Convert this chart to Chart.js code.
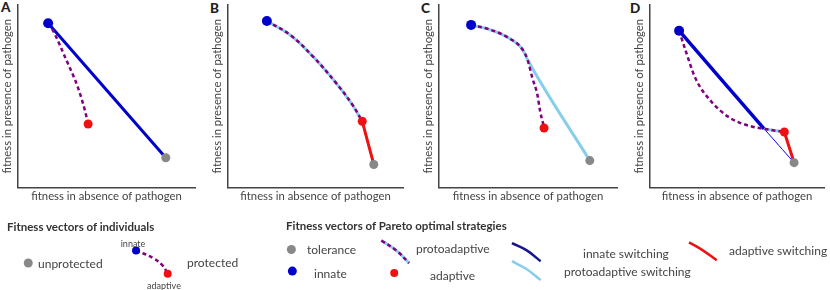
<!DOCTYPE html>
<html>
<head>
<meta charset="utf-8">
<script src="https://cdn.jsdelivr.net/npm/chart.js@4.4.1/dist/chart.umd.min.js"></script>
<style>
  body { margin: 0; width: 830px; height: 290px; position: relative; overflow: hidden; background: #fff; font-family: Lato, sans-serif; color: #444; }
  .box { position: absolute; }
  .t { position: absolute; white-space: nowrap; line-height: 1; transform: translateY(-50%); font-size: 12px; }
  .c { transform: translate(-50%, -50%); font-size: 9px; }
  .b { font-weight: bold; font-size: 11.5px; color: #333; }
  .L { position: absolute; font-weight: 900; font-size: 13.5px; color: #222; line-height: 1; }
</style>
</head>
<body>

<div class="L" style="left:1px;top:1px">A</div>
<div class="L" style="left:210px;top:2px">B</div>
<div class="L" style="left:421px;top:2px">C</div>
<div class="L" style="left:630px;top:2px">D</div>

<div class="box" id="pA"><canvas id="chartA"></canvas></div>
<div class="box" id="pB"><canvas id="chartB"></canvas></div>
<div class="box" id="pC"><canvas id="chartC"></canvas></div>
<div class="box" id="pD"><canvas id="chartD"></canvas></div>
<div class="box" id="pL" style="left:0;top:200px;width:830px;height:90px"><canvas id="legendChart"></canvas></div>

<div class="t b" style="left:7px;top:227px">Fitness vectors of individuals</div>
<div class="t" style="left:38px;top:264px">unprotected</div>
<div class="t c" style="left:133px;top:243px">innate</div>
<div class="t c" style="left:164px;top:285px">adaptive</div>
<div class="t" style="left:187px;top:263px">protected</div>

<div class="t b" style="left:286px;top:226px">Fitness vectors of Pareto optimal strategies</div>
<div class="t" style="left:307px;top:250px">tolerance</div>
<div class="t" style="left:314px;top:274px">innate</div>
<div class="t" style="left:416px;top:249px">protoadaptive</div>
<div class="t" style="left:430px;top:276px">adaptive</div>
<div class="t" style="left:583px;top:254px">innate switching</div>
<div class="t" style="left:564px;top:272px">protoadaptive switching</div>
<div class="t" style="left:729px;top:251px">adaptive switching</div>

<script>
// colours
var GRAY = '#888888', BLUE = '#0000cc', RED = '#ee1111', PURPLE = '#800080', SKY = '#87ceeb', NAVY = '#15158c';

// axis titles
var xTitle = 'fitness in absence of pathogen';
var yTitle = 'fitness in presence of pathogen';
var TITLE_SIZE = 11.3;

// panel A (0-100 scale on both axes)
var A_tolerance = [{x: 83.5, y: 16.3}];
var A_innate = [{x: 17, y: 90}];
var A_adaptive = [{x: 39.6, y: 34.8}];
var A_protected = [{x: 17, y: 90}, {x: 19.2, y: 87}, {x: 26.9, y: 70.7}, {x: 34, y: 54.3}, {x: 37.9, y: 41.8}, {x: 39.6, y: 34.8}];
var A_innateSwitch = [{x: 17, y: 90}, {x: 83.5, y: 16.3}];

// panel B
var B_tolerance = [{x: 83.3, y: 12.6}];
var B_innate = [{x: 22.2, y: 91.2}];
var B_adaptive = [{x: 76.7, y: 36.3}];
var B_proto = [{x: 22.2, y: 91.2}, {x: 35.6, y: 83.5}, {x: 48.3, y: 72}, {x: 61.1, y: 58}, {x: 70.6, y: 46}, {x: 76.7, y: 36.3}];
var B_adaptiveSwitch = [{x: 76.7, y: 36.3}, {x: 83.3, y: 12.6}];

// panel C
var C_tolerance = [{x: 84.7, y: 14.7}];
var C_innate = [{x: 18, y: 89.1}];
var C_adaptive = [{x: 59, y: 32.6}];
var C_proto = [{x: 18, y: 89.1}, {x: 29, y: 86.4}, {x: 39.9, y: 81.5}, {x: 47, y: 75.5}, {x: 49.7, y: 70.1},
               {x: 52.5, y: 59.8}, {x: 55.2, y: 51.1}, {x: 56.8, y: 41.8}, {x: 58.5, y: 34.8}, {x: 59, y: 32.6}];
var C_protoSwitch = [{x: 18, y: 89.1}, {x: 29, y: 86.4}, {x: 39.9, y: 81.5}, {x: 47, y: 75.5}, {x: 49.7, y: 70.1},
                     {x: 84.7, y: 14.7}];

// panel D
var D_tolerance = [{x: 82.8, y: 13.6}];
var D_innate = [{x: 16.7, y: 85.9}];
var D_adaptive = [{x: 77.2, y: 30.4}];
var D_proto = [{x: 16.7, y: 85.9}, {x: 20.6, y: 74.5}, {x: 26.1, y: 59.8}, {x: 35, y: 47.3}, {x: 46.1, y: 38},
               {x: 57.2, y: 33.7}, {x: 65.6, y: 32.1}, {x: 77.2, y: 30.4}];
var D_protoTail = [{x: 65.6, y: 32.1}, {x: 77.2, y: 30.4}];
var D_innateSwitch = [{x: 16.7, y: 85.9}, {x: 65.6, y: 32.1}];
var D_innateThin = [{x: 65.6, y: 32.1}, {x: 82.8, y: 13.6}];
var D_adaptiveSwitch = [{x: 77.2, y: 30.4}, {x: 82.8, y: 13.6}];

// legend marks (page pixel coordinates)
var legGray = [{x: 24, y: 265}, {x: 290, y: 250}];
var legBlue = [{x: 291, y: 274}];
var legRed = [{x: 394, y: 276}];
var legBlueSmall = [{x: 133, y: 251}];
var legRedSmall = [{x: 165, y: 277}];
var legProtected = [{x: 133, y: 251}, {x: 151, y: 260}, {x: 160, y: 268}, {x: 165, y: 277}];
var legProto = [{x: 381, y: 240}, {x: 396, y: 251}, {x: 409, y: 265}];
var legNavy = [{x: 513, y: 243}, {x: 528, y: 251}, {x: 542, y: 263}];
var legSky = [{x: 513, y: 263}, {x: 528, y: 272}, {x: 542, y: 284}];
var legRedLine = [{x: 692, y: 242}, {x: 706, y: 251}, {x: 720, y: 262}];

function dots(data, color, r) {
    return { data: data, showLine: false, pointRadius: r, pointHoverRadius: r, pointBackgroundColor: color, pointBorderWidth: 0, clip: false };
}
function curve(data, color, w, dash, mono) {
    var ds = { data: data, showLine: true, borderColor: color, borderWidth: w, borderDash: dash || [], tension: 0.4,
               pointRadius: 0, fill: false, clip: false };
    if (mono) ds.cubicInterpolationMode = 'monotone';
    return ds;
}

function axisOpts(text, padBottom) {
    return {
        type: 'linear', min: 0, max: 100,
        grid: { display: false, drawTicks: false },
        ticks: { display: false },
        border: { display: true, color: '#444', width: 1.5 },
        title: { display: true, text: text, color: '#444', font: { family: 'Lato', size: TITLE_SIZE }, padding: { top: 2, bottom: padBottom } }
    };
}

function makePanel(boxId, canvasId, areaLeft, areaRight, yPad, datasets) {
    var yWidth = TITLE_SIZE * 1.2 + 2 + yPad;
    var left = areaLeft - yWidth;
    var box = document.getElementById(boxId);
    box.style.left = left + 'px';
    box.style.top = '0px';
    box.style.width = (areaRight - left) + 'px';
    box.style.height = '205px';
    new Chart(document.getElementById(canvasId).getContext('2d'), {
        type: 'scatter',
        data: { datasets: datasets },
        options: {
            responsive: true,
            maintainAspectRatio: false,
            animation: false,
            layout: { padding: { top: 3, right: 0, bottom: 0, left: 0 } },
            plugins: { legend: { display: false }, tooltip: { enabled: false } },
            scales: { x: axisOpts(xTitle, 2), y: axisOpts(yTitle, yPad) }
        }
    });
}

// datasets listed top-most first
makePanel('pA', 'chartA', 18, 200, 3.5, [
    dots(A_innate, BLUE, 5), dots(A_tolerance, GRAY, 4.5), dots(A_adaptive, RED, 4.5),
    curve(A_protected, PURPLE, 2.5, [4, 3], true),
    curve(A_innateSwitch, BLUE, 3)
]);

makePanel('pB', 'chartB', 228, 408, 3.5, [
    dots(B_innate, BLUE, 5), dots(B_tolerance, GRAY, 4.5), dots(B_adaptive, RED, 4.5),
    curve(B_proto, PURPLE, 2.5, [4, 3]),
    curve(B_proto, SKY, 3),
    curve(B_adaptiveSwitch, RED, 3)
]);

makePanel('pC', 'chartC', 439, 622, 3.5, [
    dots(C_innate, BLUE, 5), dots(C_tolerance, GRAY, 4.5), dots(C_adaptive, RED, 4.5),
    curve(C_proto, PURPLE, 2.5, [4, 3], true),
    curve(C_protoSwitch, SKY, 3, null, true)
]);

makePanel('pD', 'chartD', 650, 829, 3.5, [
    dots(D_innate, BLUE, 5), dots(D_tolerance, GRAY, 4.5), dots(D_adaptive, RED, 4.5),
    curve(D_adaptiveSwitch, RED, 3),
    curve(D_proto, PURPLE, 2.5, [4, 3], true),
    curve(D_protoTail, SKY, 3),
    curve(D_innateSwitch, BLUE, 3.5),
    curve(D_innateThin, BLUE, 1)
]);

// legend marks
new Chart(document.getElementById('legendChart').getContext('2d'), {
    type: 'scatter',
    data: {
        datasets: [
            dots(legGray, GRAY, 4.5), dots(legBlue, BLUE, 4.5), dots(legRed, RED, 4),
            dots(legBlueSmall, BLUE, 4), dots(legRedSmall, RED, 4),
            curve(legProtected, PURPLE, 2.5, [4, 3]),
            curve(legProto, PURPLE, 2.5, [4, 3]),
            curve(legProto, SKY, 3),
            curve(legNavy, NAVY, 2.5),
            curve(legSky, SKY, 2.5),
            curve(legRedLine, RED, 2.5)
        ]
    },
    options: {
        responsive: true,
        maintainAspectRatio: false,
        animation: false,
        layout: { padding: 0 },
        plugins: { legend: { display: false }, tooltip: { enabled: false } },
        scales: {
            x: { type: 'linear', display: false, min: 0, max: 830 },
            y: { type: 'linear', display: false, min: 200, max: 290, reverse: true }
        }
    }
});
</script>
</body>
</html>
